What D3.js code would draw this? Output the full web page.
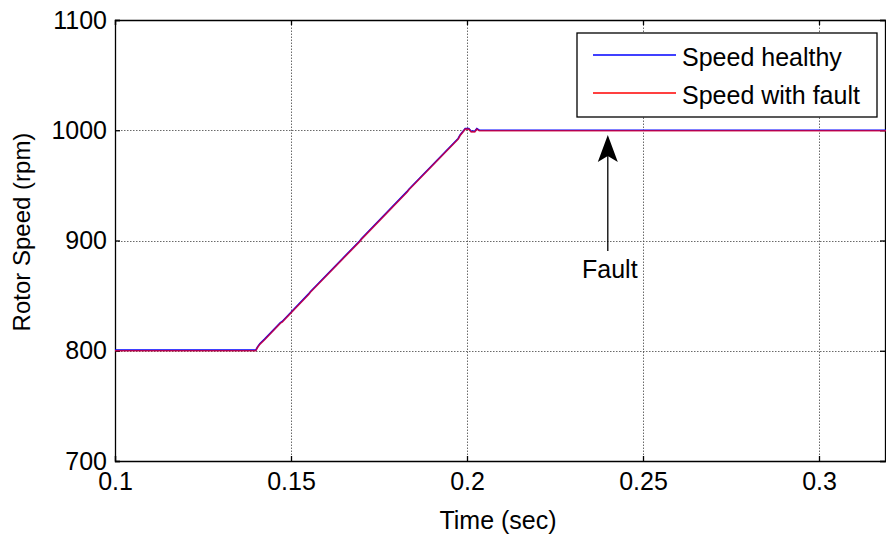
<!DOCTYPE html>
<html>
<head>
<meta charset="utf-8">
<script src="https://cdn.jsdelivr.net/npm/d3@7"></script>
<style>
  body { margin: 0; background: #fff; }
  svg { font-family: Arial, "Liberation Sans", sans-serif; }
</style>
</head>
<body>
<div id="chart"></div>
<script>
// data
var timeHealthy  = [0.1, 0.14, 0.1405, 0.1412, 0.1425, 0.147, 0.1475, 0.155, 0.1555, 0.1695, 0.17, 0.183, 0.1835, 0.1975, 0.198, 0.1995, 0.2005, 0.2012, 0.2022, 0.2028, 0.2035, 0.32];
var speedHealthy = [800, 800, 803, 806, 810, 825, 826, 851, 853, 899, 901, 944, 946, 992, 995, 1001, 1001, 998.5, 998.5, 1001, 999.5, 999.5];
var timeFault  = timeHealthy;
var speedFault = speedHealthy;
var xTicks = [0.1, 0.15, 0.2, 0.25, 0.3];
var yTicks = [700, 800, 900, 1000, 1100];
var seriesNames = ["Speed healthy", "Speed with fault"];

var W = 886, H = 534;
var FS = "25px";

var x = d3.scaleLinear().domain([0.1, 0.32]).range([115, 115 + 0.22 * 3520]);
var y = d3.scaleLinear().domain([700, 1100]).range([461, 20]);

var svg = d3.select("#chart").append("svg")
    .attr("width", W)
    .attr("height", H);

svg.append("clipPath").attr("id", "plot")
  .append("rect")
    .attr("x", 115).attr("y", 20)
    .attr("width", W - 115).attr("height", 441);

// grid
svg.append("g").selectAll("line")
    .data(xTicks.slice(1))
  .enter().append("line")
    .attr("x1", function(d) { return Math.round(x(d)) + 0.5; })
    .attr("x2", function(d) { return Math.round(x(d)) + 0.5; })
    .attr("y1", y(700)).attr("y2", y(1100))
    .attr("stroke", "#444").attr("stroke-width", 0.8)
    .attr("stroke-dasharray", "1.5,1.5");
svg.append("g").selectAll("line")
    .data(yTicks.slice(1, -1))
  .enter().append("line")
    .attr("x1", x(0.1)).attr("x2", W)
    .attr("y1", function(d) { return Math.round(y(d)) + 0.5; })
    .attr("y2", function(d) { return Math.round(y(d)) + 0.5; })
    .attr("stroke", "#444").attr("stroke-width", 0.8)
    .attr("stroke-dasharray", "1.5,1.5");

// axes
var xAxis = svg.append("g")
    .attr("transform", "translate(0," + y(700) + ")")
    .call(d3.axisBottom(x).tickValues(xTicks).tickSize(-5).tickPadding(11)
      .tickFormat(function(d) { return String(+d.toFixed(2)); }));
var yAxis = svg.append("g")
    .attr("transform", "translate(" + x(0.1) + ",0)")
    .call(d3.axisLeft(y).tickValues(yTicks).tickSize(-5).tickPadding(8)
      .tickFormat(function(d) { return String(d); }));
var xTop = svg.append("g")
    .attr("transform", "translate(0," + y(1100) + ")")
    .call(d3.axisTop(x).tickValues(xTicks).tickSize(-5).tickFormat(""));
var yRight = svg.append("g")
    .attr("transform", "translate(" + (W - 1) + ",0)")
    .call(d3.axisRight(y).tickValues(yTicks).tickSize(-5).tickFormat(""));

[xAxis, yAxis, xTop, yRight].forEach(function(g) {
  g.select(".domain").attr("stroke", "#000").attr("stroke-width", 1.3);
  g.selectAll(".tick line").attr("stroke", "#000").attr("stroke-width", 1.3);
  g.selectAll("text").attr("fill", "#000").attr("font-size", FS)
    .attr("font-family", "Arial, 'Liberation Sans', sans-serif");
});
xAxis.selectAll("text").attr("dy", "0.71em");

// lines
var line = d3.line()
    .x(function(d) { return x(d[0]); })
    .y(function(d) { return y(d[1]); });

svg.append("path")
    .datum(d3.zip(timeHealthy, speedHealthy))
    .attr("clip-path", "url(#plot)")
    .attr("fill", "none")
    .attr("stroke", "#0000ff")
    .attr("stroke-width", 1.6)
    .attr("transform", "translate(0,-0.6)")
    .attr("d", line);
svg.append("path")
    .datum(d3.zip(timeFault, speedFault))
    .attr("clip-path", "url(#plot)")
    .attr("fill", "none")
    .attr("stroke", "#d0003a")
    .attr("stroke-opacity", 0.85)
    .attr("stroke-width", 1.6)
    .attr("d", line);

// legend
var legend = svg.append("g");
legend.append("rect")
    .attr("x", 577).attr("y", 33)
    .attr("width", 300).attr("height", 84)
    .attr("fill", "#fff").attr("stroke", "#000").attr("stroke-width", 1.3);
var colors = ["#0000ff", "#ff0000"];
seriesNames.forEach(function(name, i) {
  var ly = 55 + i * 38;
  legend.append("line")
      .attr("x1", 593).attr("x2", 676)
      .attr("y1", ly).attr("y2", ly)
      .attr("stroke", colors[i]).attr("stroke-width", 1.5);
  legend.append("text")
      .attr("x", 682).attr("y", ly + 2)
      .attr("dy", "0.35em")
      .attr("font-size", FS)
      .text(name);
});

// annotation
svg.append("line")
    .attr("x1", x(0.24)).attr("x2", x(0.24))
    .attr("y1", 251).attr("y2", 140)
    .attr("stroke", "#000").attr("stroke-width", 1.3);
svg.append("path")
    .attr("d", "M" + x(0.24) + ",135 l10,27 l-10,-6 l-10,6 Z")
    .attr("fill", "#000");
svg.append("text")
    .attr("x", x(0.24) + 2).attr("y", 269)
    .attr("dy", "0.35em")
    .attr("text-anchor", "middle")
    .attr("font-size", FS)
    .text("Fault");

// axis titles
svg.append("text")
    .attr("x", 498).attr("y", 520)
    .attr("dy", "0.35em")
    .attr("text-anchor", "middle")
    .attr("font-size", FS)
    .text("Time (sec)");
svg.append("text")
    .attr("transform", "translate(22,232) rotate(-90)")
    .attr("dy", "0.35em")
    .attr("text-anchor", "middle")
    .attr("font-size", "24px")
    .text("Rotor Speed (rpm)");
</script>
</body>
</html>
